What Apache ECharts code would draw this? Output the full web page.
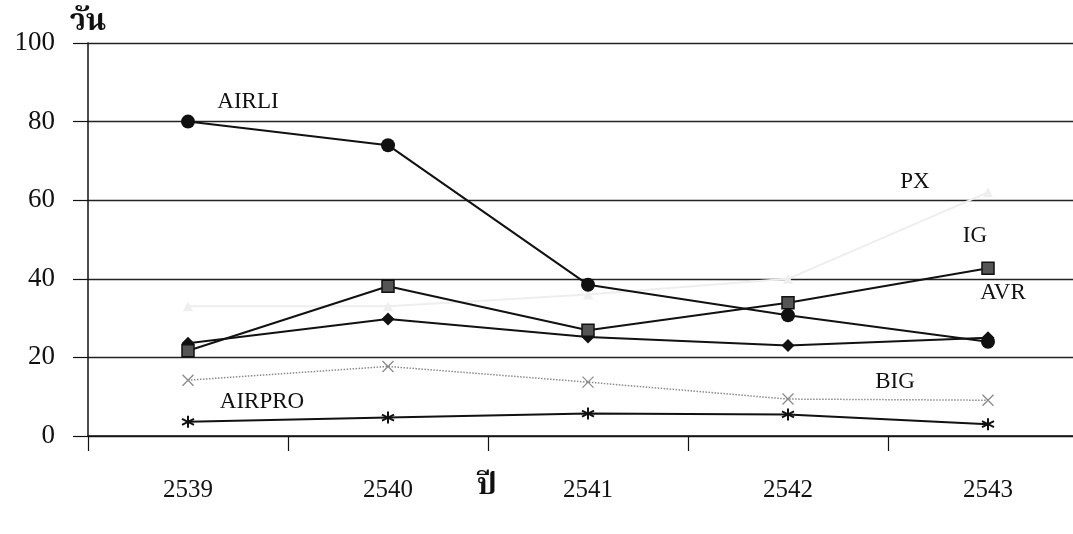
<!DOCTYPE html>
<html><head><meta charset="utf-8">
<script src="https://cdn.jsdelivr.net/npm/echarts@6/dist/echarts.min.js"></script>
<style>html,body{margin:0;padding:0;background:#fff}#c{width:1073px;height:534px}</style>
</head><body><div id="c"></div>
<script>
// ---- data ----
const years = ['2539', '2540', '2541', '2542', '2543'];
const yTickLabels = ['0', '20', '40', '60', '80', '100'];
const seriesNames = ['PX', 'BIG', 'AIRPRO', 'AVR', 'IG', 'AIRLI'];
const PX = [33, 33, 36, 40, 62];
const BIG = [14.2, 17.7, 13.7, 9.4, 9.1];
const AIRPRO = [3.6, 4.7, 5.7, 5.5, 3];
const AVR = [23.6, 29.8, 25.2, 23, 25];
const IG = [21.7, 38.1, 26.9, 33.9, 42.7];
const AIRLI = [80, 74, 38.5, 30.7, 24];
const yAxisName = 'วัน';
const xAxisName = 'ปี';

// ---- styling ----
const FONT = '"Liberation Serif", "Times New Roman", serif';
const THAI = '"Noto Serif Thai", "Noto Sans Thai", "Loma", "Garuda", "Norasi", "Tlwg Typo", serif';
const crossPath = 'path://M0,0L10,10M10,0L0,10';
const starPath = 'path://M5,0L5,10M0.7,2.5L9.3,7.5M9.3,2.5L0.7,7.5';

// label placement (which point, offset from it)
const labelSpec = {
  AIRLI: { idx: 0, off: [60, -20] },
  AIRPRO: { idx: 0, off: [74, -20] },
  IG: { idx: 4, off: [-13, -32] },
  PX: { idx: 4, off: [-73, -10] },
  AVR: { idx: 4, off: [15, -45] },
  BIG: { idx: 4, off: [-93, -18] }
};

const styles = {
  PX: { color: '#eeeeee', symbol: 'triangle', size: 10, width: 2, type: 'solid', fill: '#eeeeee', border: '#eeeeee', bw: 0 },
  BIG: { color: '#8a8a8a', symbol: crossPath, size: 11, width: 1.5, type: 'dotted', fill: 'none', border: '#8a8a8a', bw: 1.3 },
  AIRPRO: { color: '#111', symbol: starPath, size: 12, width: 2, type: 'solid', fill: 'none', border: '#111', bw: 2 },
  AVR: { color: '#111', symbol: 'diamond', size: 13, width: 2, type: 'solid', fill: '#111', border: '#111', bw: 0 },
  IG: { color: '#111', symbol: 'rect', size: 12, width: 2, type: 'solid', fill: '#555', border: '#111', bw: 1.5 },
  AIRLI: { color: '#111', symbol: 'circle', size: 14, width: 2, type: 'solid', fill: '#111', border: '#111', bw: 0 }
};
const dataMap = { PX, BIG, AIRPRO, AVR, IG, AIRLI };

const series = seriesNames.map(name => {
  const s = styles[name];
  const spec = labelSpec[name];
  return {
    name, type: 'line',
    data: dataMap[name].map((v, i) => i === spec.idx ? {
      value: v,
      label: {
        show: true, position: 'inside', offset: spec.off,
        formatter: name, color: '#111', fontFamily: FONT, fontSize: 23
      }
    } : v),
    symbol: s.symbol, symbolSize: s.size, showAllSymbol: true,
    lineStyle: { color: s.color, width: s.width, type: s.type },
    itemStyle: { color: s.fill, borderColor: s.border, borderWidth: s.bw },
    emphasis: { disabled: true },
    animation: false
  };
});

const chart = echarts.init(document.getElementById('c'));
chart.setOption({
  backgroundColor: '#fff',
  animation: false,
  grid: { left: 88, top: 43, width: 1000, height: 393, containLabel: false, outerBoundsMode: 'none' },
  xAxis: {
    type: 'category', data: years, boundaryGap: true,
    axisLine: { lineStyle: { color: '#111', width: 1.5 } },
    axisTick: { show: true, length: 15, alignWithLabel: false, lineStyle: { color: '#111', width: 1.2 } },
    axisLabel: { margin: 42, color: '#111', fontFamily: FONT, fontSize: 25 },
    splitLine: { show: false }
  },
  yAxis: {
    type: 'value', min: 0, max: 100, interval: 20,
    name: yAxisName, nameLocation: 'end', nameGap: 3,
    nameTextStyle: { fontFamily: THAI, fontSize: 30, fontWeight: 'bold', color: '#111', align: 'center' },
    axisLine: { show: true, lineStyle: { color: '#111', width: 1.5 } },
    axisTick: { show: true, length: 15, lineStyle: { color: '#111', width: 1.2 } },
    axisLabel: {
      margin: 33, color: '#111', fontFamily: FONT, fontSize: 27,
      formatter: (v) => yTickLabels[Math.round(v / 20)]
    },
    splitLine: { show: true, lineStyle: { color: '#222', width: 1.3 } }
  },
  graphic: [{
    type: 'text', left: 477, top: 474,
    style: { text: xAxisName, fontFamily: THAI, fontSize: 30, fontWeight: 'bold', fill: '#111' }
  }],
  series
});
</script></body></html>
